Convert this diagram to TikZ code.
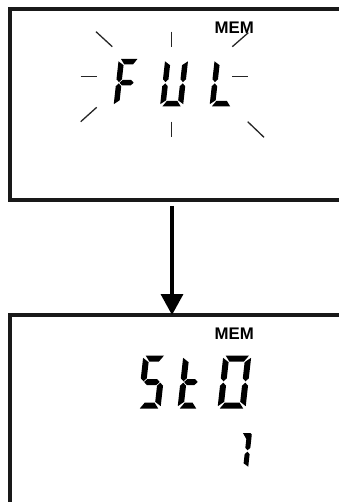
\documentclass[tikz,border=0pt]{standalone}
\usepackage{fontspec}
\setmainfont{Liberation Sans}
\usetikzlibrary{arrows.meta}
% segments in digit-local coordinates (y down, top at -H, bottom at 0); \dg gap, \cf outer chamfer
\newcommand{\lcdsega}{\fill ({\dg+\cf},-\Ht) -- ({\Wd-\dg-\cf},-\Ht) -- ({\Wd-\Tk-\dg},{-\Ht+\Tk}) -- ({\Tk+\dg},{-\Ht+\Tk}) -- cycle;}
\newcommand{\lcdsegd}{\fill ({\dg+\cf},0) -- ({\Wd-\dg-\cf},0) -- ({\Wd-\Tk-\dg},-\Tk) -- ({\Tk+\dg},-\Tk) -- cycle;}
\newcommand{\lcdsegf}{\fill (0,{-\Ht+\dg+\cf}) -- (\Tk,{-\Ht+\Tk+\dg}) -- (\Tk,{\ym-\hh-\dg}) -- (\hh,{\ym-\dg}) -- (0,{\ym-\hh-\dg}) -- cycle;}
\newcommand{\lcdsegb}{\fill (\Wd,{-\Ht+\dg+\cf}) -- ({\Wd-\Tk},{-\Ht+\Tk+\dg}) -- ({\Wd-\Tk},{\ym-\hh-\dg}) -- ({\Wd-\hh},{\ym-\dg}) -- (\Wd,{\ym-\hh-\dg}) -- cycle;}
\newcommand{\lcdsege}{\fill (0,{-\dg-\cf}) -- (\Tk,{-\Tk-\dg}) -- (\Tk,{\ym+\hh+\dg}) -- (\hh,{\ym+\dg}) -- (0,{\ym+\hh+\dg}) -- cycle;}
\newcommand{\lcdsegc}{\fill (\Wd,{-\dg-\cf}) -- ({\Wd-\Tk},{-\Tk-\dg}) -- ({\Wd-\Tk},{\ym+\hh+\dg}) -- ({\Wd-\hh},{\ym+\dg}) -- (\Wd,{\ym+\hh+\dg}) -- cycle;}
\newcommand{\lcdsegg}{\fill ({\hh+\dg},\ym) -- ({\Tk+\dg},{\ym-\hh}) -- ({\Wd-\Tk-\dg},{\ym-\hh}) -- ({\Wd-\hh-\dg},\ym) -- ({\Wd-\Tk-\dg},{\ym+\hh}) -- ({\Tk+\dg},{\ym+\hh}) -- cycle;}
% upper stroke of a "1" with a small flag to the left
\newcommand{\lcdsegk}{\fill ({\Wd-\Tk-4},-\Ht) -- ({\Wd-\cf},-\Ht) -- (\Wd,{-\Ht+\cf}) -- (\Wd,{\ym-\hh-\dg}) -- ({\Wd-\hh},{\ym-\dg}) -- ({\Wd-\Tk},{\ym-\hh-\dg}) -- ({\Wd-\Tk},{-\Ht+6}) -- cycle;}
% digit: x0, baseline y, W, H, T, segment list
\newcommand{\lcddigit}[6]{%
  \begin{scope}[shift={(#1,#2)},xslant=0.11]
    \pgfmathsetmacro\Wd{#3}
    \pgfmathsetmacro\Ht{#4}
    \pgfmathsetmacro\Tk{#5}
    \pgfmathsetmacro\hh{#5/2}
    \pgfmathsetmacro\dg{0.7}
    \pgfmathsetmacro\cf{1.6}
    \pgfmathsetmacro\ym{-#4/2}
    \foreach \s in {#6}{\csname lcdseg\s\endcsname}
  \end{scope}}
\tikzset{
  dispbox/.style={draw=black!90, line width=4, inner sep=0, outer sep=0, anchor=north west, minimum width=360},
  memlabel/.style={anchor=base west, inner sep=0, font=\fontsize{16.8}{17}\selectfont\bfseries},
  ray/.style={line width=1.3, black!85},
  flowarrow/.style={line width=3.5, -{Triangle[length=21pt,width=22pt]}}
}
\begin{document}
\begin{tikzpicture}[x=1pt,y=-1pt]
\useasboundingbox (0,0) rectangle (339,502);
\clip (0,0) rectangle (339,502);
\fill[white] (0,0) rectangle (339,502);
% display boxes
\node[dispbox, minimum height=191] (disp1) at (9.5,9) {};
\node[dispbox, minimum height=220] (disp2) at (9.5,315) {};
% labels
\node[memlabel] (mem1) at (214.5,33.5) {MEM};
\node[memlabel] (mem2) at (214.5,339.5) {MEM};
% blink rays
\draw[ray] (96,31.7) -- (112.3,46.7);
\draw[ray] (171.7,31.7) -- (171.7,46.7);
\draw[ray] (232.3,46.7) -- (248.3,32.7);
\draw[ray] (80.7,76.7) -- (96.7,76.7);
\draw[ray] (232.3,76.7) -- (248.3,76.7);
\draw[ray] (80.7,121.7) -- (96.7,107.3);
\draw[ray] (171.7,121.7) -- (171.7,136.7);
\draw[ray] (247.7,121.7) -- (264,137.3);
% FUL
\lcddigit{113.5}{106.5}{21}{47.5}{5.5}{a,f,e,g}
\lcddigit{160}{106.5}{23}{47.5}{5.5}{b,c,d,e,f}
\lcddigit{209.5}{106.5}{23}{47.5}{5.5}{d,e,f}
% StO
\lcddigit{137.5}{408.5}{23}{53}{6}{a,f,g,c,d}
\lcddigit{177.5}{408.5}{21}{53}{6}{f,e,g,d}
\lcddigit{217.5}{408.5}{28}{53}{6}{a,b,c,d,e,f}
% 1
\lcddigit{238}{469}{10}{36}{5}{k,c}
% arrow
\coordinate (a1) at (172,206);
\coordinate (a2) at (172,315);
\draw[flowarrow] (a1) -- (a2);
\end{tikzpicture}
\end{document}
